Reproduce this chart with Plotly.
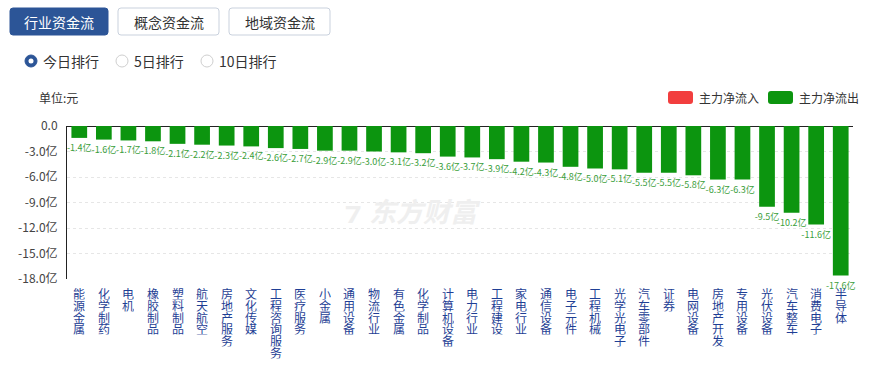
import plotly.graph_objects as go

categories = ["能源金属", "化学制药", "电机", "橡胶制品", "塑料制品", "航天航空", "房地产服务", "文化传媒",
              "工程咨询服务", "医疗服务", "小金属", "通用设备", "物流行业", "有色金属", "化学制品", "计算机设备",
              "电力行业", "工程建设", "家电行业", "通信设备", "电子元件", "工程机械", "光学光电子", "汽车零部件",
              "证券", "电网设备", "房地产开发", "专用设备", "光伏设备", "汽车整车", "消费电子", "半导体"]
net_flow = [-1.4, -1.6, -1.7, -1.8, -2.1, -2.2, -2.3, -2.4, -2.6, -2.7, -2.9, -2.9, -3.0, -3.1, -3.2, -3.6,
            -3.7, -3.9, -4.2, -4.3, -4.8, -5.0, -5.1, -5.5, -5.5, -5.8, -6.3, -6.3, -9.5, -10.2, -11.6, -17.6]
y_ticks = [0, -3, -6, -9, -12, -15, -18]
y_tick_text = ["0.0", "-3.0亿", "-6.0亿", "-9.0亿", "-12.0亿", "-15.0亿", "-18.0亿"]
tabs = ["行业资金流", "概念资金流", "地域资金流"]
radios = ["今日排行", "5日排行", "10日排行"]
legend_names = ["主力净流入", "主力净流出"]

W, H = 877, 365
L, R, T, B = 67, 24, 126, 86
PW, PH = W - L - R, H - T - B
FONT = "Noto Sans CJK SC, Noto Sans, sans-serif"
GREEN = "#0c950f"
RED = "#f23e3e"
BLUE = "#2c5597"


def px(x):
    return (x - L) / PW


def py(y):
    return (H - B - y) / PH


def rrect(x0, y0, x1, y1, r=3):
    pts = [
        f"M {px(x0 + r)} {py(y0)}", f"L {px(x1 - r)} {py(y0)}", f"Q {px(x1)} {py(y0)} {px(x1)} {py(y0 + r)}",
        f"L {px(x1)} {py(y1 - r)}", f"Q {px(x1)} {py(y1)} {px(x1 - r)} {py(y1)}",
        f"L {px(x0 + r)} {py(y1)}", f"Q {px(x0)} {py(y1)} {px(x0)} {py(y1 - r)}",
        f"L {px(x0)} {py(y0 + r)}", f"Q {px(x0)} {py(y0)} {px(x0 + r)} {py(y0)} Z",
    ]
    return " ".join(pts)


fig = go.Figure()
fig.add_trace(go.Bar(
    x=categories, y=net_flow, marker=dict(color=GREEN, line=dict(width=0)),
    text=[f"{v:.1f}亿" for v in net_flow], textposition="outside", constraintext="none",
    textfont=dict(size=9, color="#3a9e3a", family=FONT), cliponaxis=False, showlegend=False,
    hoverinfo="skip",
))

shapes = []
annotations = []

# tabs
tab_x = [(10, 108), (118, 219), (229, 330)]
for i, (name, (x0, x1)) in enumerate(zip(tabs, tab_x)):
    active = i == 0
    shapes.append(dict(type="path", xref="paper", yref="paper", path=rrect(x0, 8, x1, 35),
                       fillcolor=BLUE if active else "white",
                       line=dict(color=BLUE if active else "#c9d1dd", width=1)))
    annotations.append(dict(xref="paper", yref="paper", x=px((x0 + x1) / 2), y=py(21.5), text=name,
                            showarrow=False, xanchor="center", yanchor="middle",
                            font=dict(size=14, color="white" if active else "#333", family=FONT)))

# radios
radio_cx = [31, 122, 207]
for i, (name, cx) in enumerate(zip(radios, radio_cx)):
    cy = 61
    if i == 0:
        shapes.append(dict(type="circle", xref="paper", yref="paper", x0=px(cx - 6), x1=px(cx + 6),
                           y0=py(cy + 6), y1=py(cy - 6), fillcolor=BLUE, line=dict(color=BLUE, width=1)))
        shapes.append(dict(type="circle", xref="paper", yref="paper", x0=px(cx - 2.5), x1=px(cx + 2.5),
                           y0=py(cy + 2.5), y1=py(cy - 2.5), fillcolor="white", line=dict(color="white", width=0)))
    else:
        shapes.append(dict(type="circle", xref="paper", yref="paper", x0=px(cx - 6), x1=px(cx + 6),
                           y0=py(cy + 6), y1=py(cy - 6), fillcolor="white", line=dict(color="#cfcfcf", width=1)))
    annotations.append(dict(xref="paper", yref="paper", x=px(cx + 10), y=py(cy), text=name, showarrow=False,
                            xanchor="left", yanchor="middle", font=dict(size=14, color="#333", family=FONT)))

# unit label
annotations.append(dict(xref="paper", yref="paper", x=px(37), y=py(97), text="单位:元", showarrow=False,
                        xanchor="left", yanchor="middle", font=dict(size=12, color="#333", family=FONT)))

# legend
leg = [(668, RED, legend_names[0]), (768, GREEN, legend_names[1])]
for x0, c, name in leg:
    shapes.append(dict(type="path", xref="paper", yref="paper", path=rrect(x0, 91, x0 + 25, 104, 3),
                       fillcolor=c, line=dict(color=c, width=0)))
    annotations.append(dict(xref="paper", yref="paper", x=px(x0 + 29), y=py(97.5), text=name, showarrow=False,
                            xanchor="left", yanchor="middle", font=dict(size=12, color="#333", family=FONT)))

# watermark
annotations.append(dict(xref="paper", yref="paper", x=px(425), y=py(210), text="<b><i>东方财富</i></b>",
                        showarrow=False, xanchor="center", yanchor="middle",
                        font=dict(size=27, color="#efefef", family=FONT)))
annotations.append(dict(xref="paper", yref="paper", x=px(352), y=py(210), text="<b><i>⁊</i></b>",
                        showarrow=False, xanchor="center", yanchor="middle",
                        font=dict(size=30, color="#efefef", family=FONT)))

# vertical category labels (one character per line, tight stacking)
for cat in categories:
    for j, ch in enumerate(cat):
        annotations.append(dict(xref="x", yref="paper", x=cat, y=0, text=ch, showarrow=False,
                                xanchor="center", yanchor="middle", yshift=-(15 + 11.8 * j),
                                height=11.6, borderpad=0,
                                font=dict(size=12, color="#1f3f95", family=FONT)))

fig.update_layout(
    width=W, height=H, margin=dict(l=L, r=R, t=T, b=B, pad=0),
    paper_bgcolor="white", plot_bgcolor="white",
    bargap=0.36, showlegend=False,
    shapes=shapes, annotations=annotations,
    font=dict(family=FONT),
)
fig.update_xaxes(showticklabels=False, showgrid=False, showline=False, ticks="", zeroline=False,
                 range=[-0.5, len(categories) - 0.5])
fig.update_yaxes(range=[-18, 0], tickvals=y_ticks, ticktext=y_tick_text, showgrid=True,
                 gridcolor="#e6e6e6", griddash="dot", gridwidth=1, zeroline=True, zerolinecolor="#222",
                 zerolinewidth=1, showline=True, linecolor="#222", linewidth=1, ticks="",
                 tickfont=dict(size=12, color="#444", family=FONT), ticklabelstandoff=6)

fig.write_html("out.html", config={"displayModeBar": False},
               post_script="document.body.style.margin='0';document.body.style.overflow='hidden';")
